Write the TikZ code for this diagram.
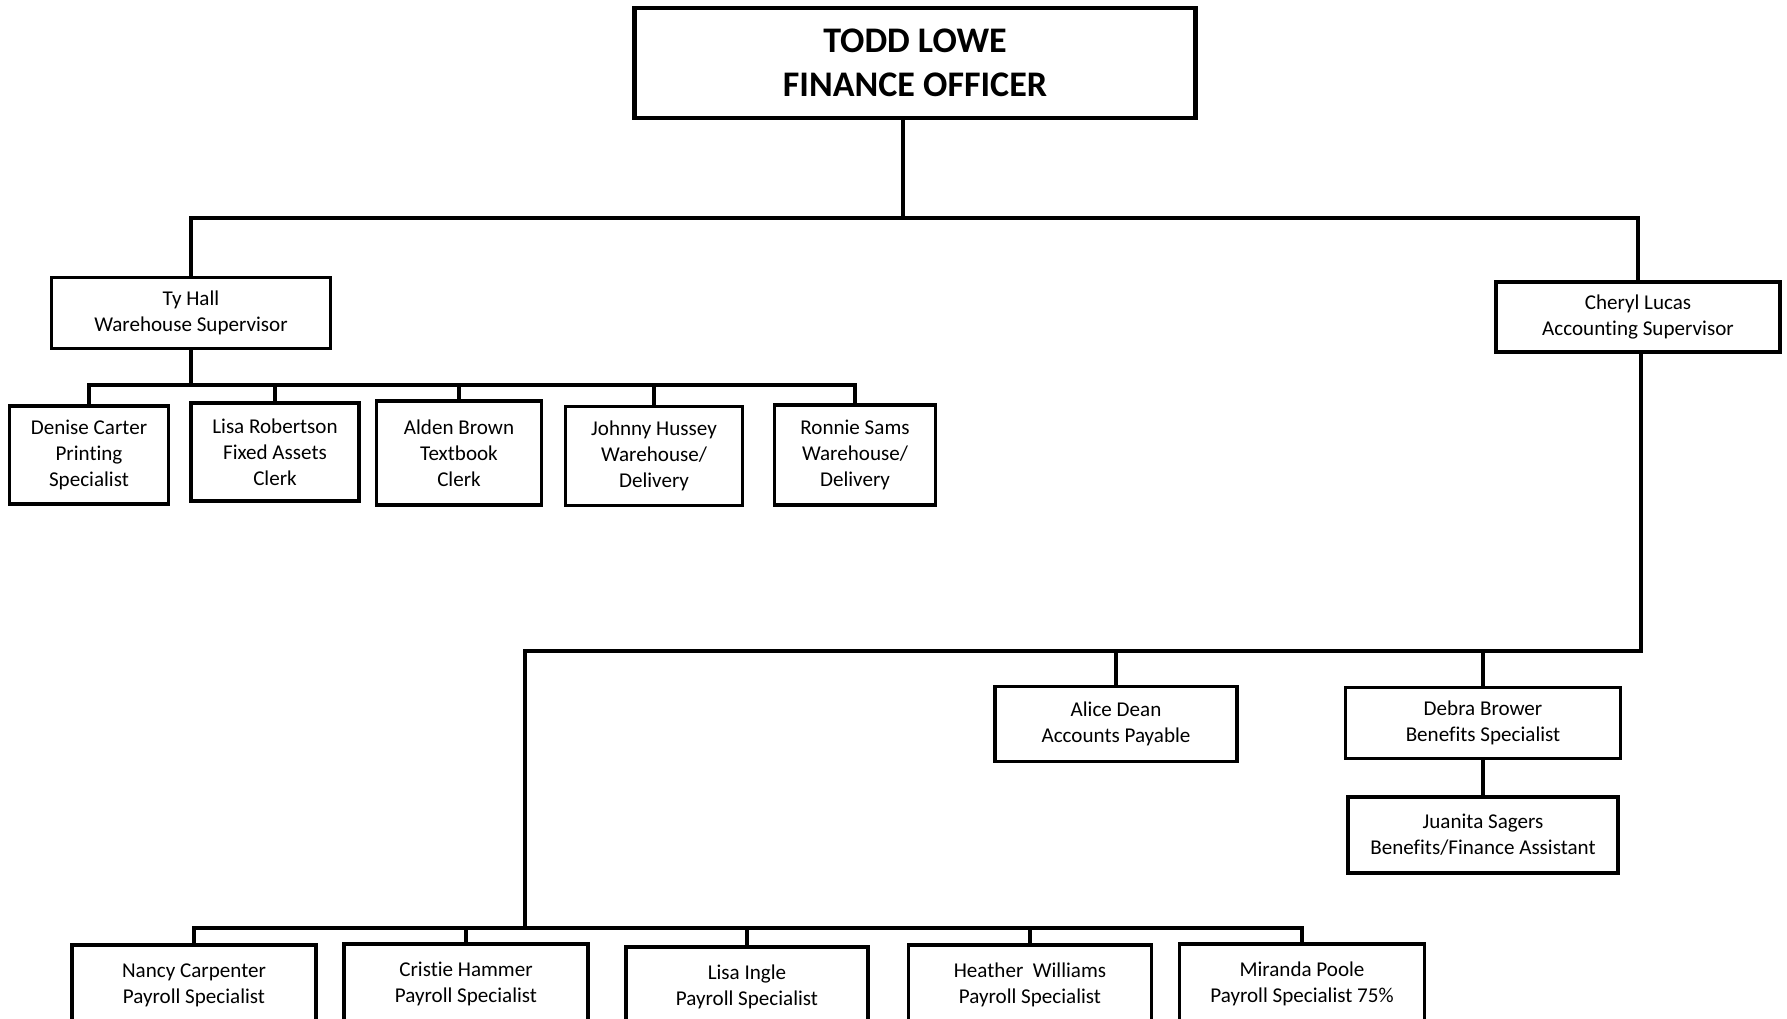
\documentclass[tikz,border=0pt]{standalone}
\usepackage{fontspec}
\setmainfont{Carlito}[Ligatures=NoCommon]
\begin{document}
\begin{tikzpicture}[x=0.02cm, y=-0.02cm,
    box/.style={draw, line width=1.9pt, align=center, inner sep=0pt,
      font=\fontsize{12}{14.8}\selectfont},
    bigbox/.style={box, line width=2.8pt, font=\fontsize{20.5}{25}\selectfont\bfseries},
    link/.style={line width=1.8pt}]
      \useasboundingbox (0,0) rectangle (1787,1018);
      \clip (0,0) rectangle (1787,1018);

      \node[bigbox, minimum width=11.22cm, minimum height=2.2cm] (boss) at (915,63) {TODD LOWE\\FINANCE OFFICER};

      \node[box, minimum width=5.58cm, minimum height=1.42cm] (tyhall) at (191,313) {Ty Hall\\Warehouse Supervisor};
      \node[box, minimum width=5.68cm, minimum height=1.4cm] (cheryl) at (1638,317) {Cheryl Lucas\\Accounting Supervisor};

      \node[box, minimum width=3.18cm, minimum height=1.96cm] (denise) at (89,455) {Denise Carter\\Printing\\Specialist};
      \node[box, minimum width=3.36cm, minimum height=1.96cm] (lisar) at (275,452) {Lisa Robertson\\Fixed Assets\\Clerk};
      \node[box, minimum width=3.3cm, minimum height=2.08cm] (alden) at (459,453) {Alden Brown\\Textbook\\Clerk};
      \node[box, minimum width=3.54cm, minimum height=1.98cm] (johnny) at (654,456) {Johnny Hussey\\Warehouse/\\Delivery};
      \node[box, minimum width=3.22cm, minimum height=2cm] (ronnie) at (855,455) {Ronnie Sams\\Warehouse/\\Delivery};

      \node[box, minimum width=4.84cm, minimum height=1.5cm] (alice) at (1116,724) {Alice Dean\\Accounts Payable};
      \node[box, minimum width=5.5cm, minimum height=1.42cm] (debra) at (1483,723) {Debra Brower\\Benefits Specialist};
      \node[box, minimum width=5.4cm, minimum height=1.52cm] (juanita) at (1483,835) {Juanita Sagers\\Benefits/Finance Assistant};

      \node[box, minimum width=4.88cm, minimum height=1.6cm] (nancy) at (194,985) {Nancy Carpenter\\Payroll Specialist};
      \node[box, minimum width=4.88cm, minimum height=1.6cm] (cristie) at (466,984) {Cristie Hammer\\Payroll Specialist};
      \node[box, minimum width=4.84cm, minimum height=1.6cm] (lisai) at (747,987) {Lisa Ingle\\Payroll Specialist};
      \node[box, minimum width=4.86cm, minimum height=1.6cm] (heather) at (1030,985) {Heather\ \ Williams\\Payroll Specialist};
      \node[box, minimum width=4.9cm, minimum height=1.6cm] (miranda) at (1302,984) {Miranda Poole\\Payroll Specialist 75\%};

      \coordinate (bus) at (903,218);
      \coordinate (tybus) at (191,385);
      \coordinate (clbus) at (1641,651);
      \coordinate (paybus) at (525,928);

      % finance officer to supervisors
      \draw[link] (boss.south -| bus) -- (bus);
      \draw[link] (tyhall.north) -- (tyhall.north |- bus) -- (cheryl.north |- bus) -- (cheryl.north);

      % warehouse
      \draw[link] (tyhall.south) -- (tybus);
      \draw[link] (denise.north) -- (denise.north |- tybus) -- (ronnie.north |- tybus) -- (ronnie.north);
      \foreach \n in {lisar, alden, johnny}
        \draw[link] (\n.north) -- (\n.north |- tybus);

      % accounting
      \draw[link] (cheryl.south -| clbus) -- (clbus) -- (paybus |- clbus) -- (paybus);
      \draw[link] (alice.north) -- (alice.north |- clbus);
      \draw[link] (debra.north) -- (debra.north |- clbus);
      \draw[link] (debra) -- (juanita);

      % payroll
      \draw[link] (nancy.north) -- (nancy.north |- paybus) -- (miranda.north |- paybus) -- (miranda.north);
      \foreach \n in {cristie, lisai, heather}
        \draw[link] (\n.north) -- (\n.north |- paybus);
    \end{tikzpicture}
\end{document}
